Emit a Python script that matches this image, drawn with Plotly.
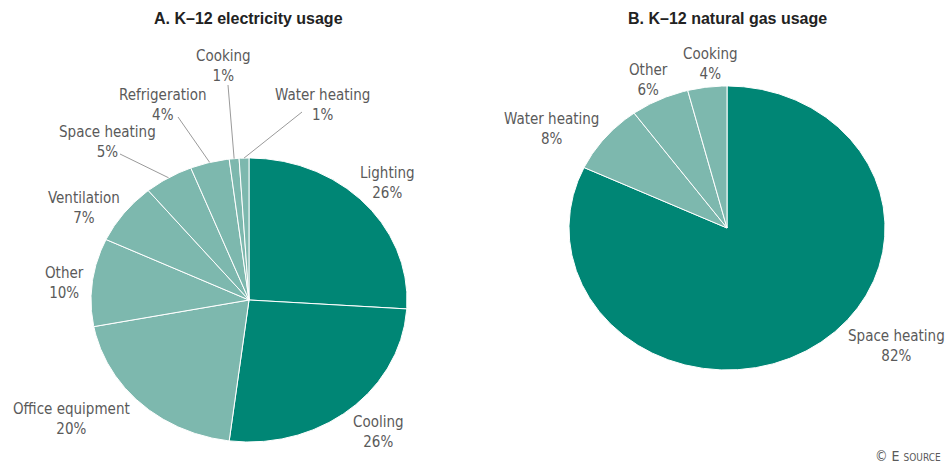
import numpy as np
import plotly.graph_objects as go

# ---- data ----
elec_labels = ["Lighting", "Cooling", "Office equipment", "Other", "Ventilation",
               "Space heating", "Refrigeration", "Cooking", "Water heating"]
elec_values = [26, 26, 20, 10, 7, 5, 4, 1, 1]

gas_labels = ["Space heating", "Water heating", "Other", "Cooking"]
gas_values = [82, 8, 6, 4]

titles = ["A. K\u201312 electricity usage", "B. K\u201312 natural gas usage"]

# ---- style ----
DARK = "#008675"
LIGHT = "#7db8ae"
elec_dark = {"Lighting", "Cooling"}
gas_dark = {"Space heating"}
TXT = "#5a5a5a"
FONT = "Liberation Sans Narrow, DejaVu Sans Condensed, Arial Narrow, sans-serif"
W, H = 947, 466

# pie geometry (pixel space)
pies = [
    dict(cx=249, cy=300, rx=158, ry=142),
    dict(cx=727, cy=228, rx=158, ry=142),
]

# label block centres (pixel space) and leader start points
elec_label_pos = {
    "Lighting": (387, 183), "Cooling": (378, 432), "Office equipment": (71, 419),
    "Other": (64, 283), "Ventilation": (84, 208), "Space heating": (107, 142),
    "Refrigeration": (163, 105), "Cooking": (223, 66), "Water heating": (322, 105),
}
elec_leader_start = {
    "Cooking": (228, 85), "Refrigeration": (178, 117),
    "Space heating": (120, 154), "Water heating": (302, 112),
}
gas_label_pos = {
    "Space heating": (896, 346), "Water heating": (551, 129),
    "Other": (648, 80), "Cooking": (710, 64),
}

fig = go.Figure()


def ell_point(p, frac, k=1.0):
    th = 2 * np.pi * frac
    return p["cx"] + k * p["rx"] * np.sin(th), p["cy"] - k * p["ry"] * np.cos(th)


def add_pie(p, labels, values, dark_set):
    total = float(sum(values))
    cum = 0.0
    for lab, val in zip(labels, values):
        f0 = cum / total
        f1 = (cum + val) / total
        n = max(4, int(np.ceil((f1 - f0) * 720)))
        fr = np.linspace(f0, f1, n)
        xs, ys = ell_point(p, fr)
        xs = np.concatenate([[p["cx"]], xs, [p["cx"]]])
        ys = np.concatenate([[p["cy"]], ys, [p["cy"]]])
        fig.add_trace(go.Scatter(
            x=xs, y=ys, mode="lines", fill="toself",
            fillcolor=DARK if lab in dark_set else LIGHT,
            line=dict(color="white", width=1),
            name=lab, hoverinfo="text", text=f"{lab}: {val}%",
            showlegend=False,
        ))
        cum += val


add_pie(pies[0], elec_labels, elec_values, elec_dark)
add_pie(pies[1], gas_labels, gas_values, gas_dark)

# leader lines for small electricity slices
tot = float(sum(elec_values))
cum = 0.0
for lab, val in zip(elec_labels, elec_values):
    if lab in elec_leader_start:
        mid = (cum + val / 2) / tot
        ex, ey = ell_point(pies[0], mid, 1.0)
        sx, sy = elec_leader_start[lab]
        fig.add_trace(go.Scatter(
            x=[sx, ex], y=[sy, ey], mode="lines",
            line=dict(color="#9a9a9a", width=1), hoverinfo="skip", showlegend=False,
        ))
    cum += val

annotations = []
for lab, val in zip(elec_labels, elec_values):
    x, y = elec_label_pos[lab]
    annotations.append(dict(x=x, y=y, text=f"{lab}<br>{val}%", showarrow=False,
                            xanchor="center", yanchor="middle", align="center",
                            font=dict(family=FONT, size=15, color=TXT)))
for lab, val in zip(gas_labels, gas_values):
    x, y = gas_label_pos[lab]
    annotations.append(dict(x=x, y=y, text=f"{lab}<br>{val}%", showarrow=False,
                            xanchor="center", yanchor="middle", align="center",
                            font=dict(family=FONT, size=15, color=TXT)))

for t, xc in zip(titles, [248, 727]):
    annotations.append(dict(x=xc, y=18, text=f"<b>{t}</b>", showarrow=False,
                            xanchor="center", yanchor="middle",
                            font=dict(family="Liberation Sans, Arial, sans-serif",
                                      size=16, color="#222222")))

annotations.append(dict(x=943, y=456, showarrow=False, xanchor="right", yanchor="middle",
                        text="\u00a9 E <span style='font-size:10px'>SOURCE</span>",
                        font=dict(family=FONT, size=14, color=TXT)))

fig.update_layout(
    width=W, height=H,
    margin=dict(l=0, r=0, t=0, b=0),
    paper_bgcolor="white", plot_bgcolor="white",
    xaxis=dict(range=[0, W], visible=False, fixedrange=True),
    yaxis=dict(range=[H, 0], visible=False, fixedrange=True),
    annotations=annotations,
    showlegend=False,
)

fig.write_html("out.html", config={"displayModeBar": False},
               post_script="document.body.style.margin='0';document.body.style.overflow='hidden';")
